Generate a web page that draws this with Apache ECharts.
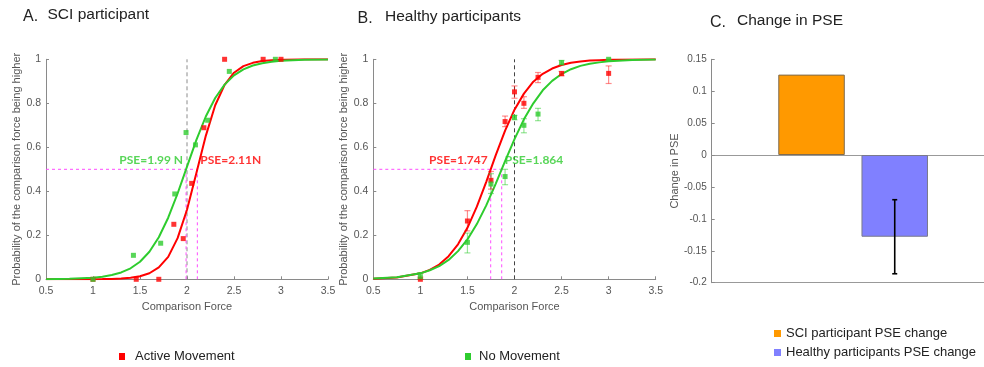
<!DOCTYPE html>
<html>
<head>
<meta charset="utf-8">
<title>PSE figure</title>
<script src="https://cdn.jsdelivr.net/npm/echarts@6/dist/echarts.min.js"></script>
<style>
html, body { margin: 0; padding: 0; background: #fff; }
#chart { width: 984px; height: 367px; }
</style>
</head>
<body>
<div id="chart"></div>
<script>
// fitted psychometric curves at these forces
const curveX = [0.5, 0.75, 1, 1.1, 1.2, 1.3, 1.4, 1.5, 1.6, 1.7, 1.8, 1.9, 2, 2.1, 2.2, 2.3, 2.4, 2.5, 2.6, 2.7, 2.8, 2.9, 3, 3.25, 3.5];
const sciActiveFit = [0, 0.0001, 0.0004, 0.0009, 0.0017, 0.0034, 0.0069, 0.0138, 0.0274, 0.054, 0.102, 0.187, 0.316, 0.483, 0.652, 0.791, 0.884, 0.939, 0.969, 0.984, 0.992, 0.996, 0.998, 0.9997, 1];
const sciNoneFit = [0.0006, 0.0021, 0.0072, 0.0118, 0.0193, 0.0312, 0.05, 0.08, 0.125, 0.191, 0.28, 0.39, 0.512, 0.634, 0.74, 0.824, 0.885, 0.927, 0.954, 0.972, 0.982, 0.989, 0.9935, 0.998, 0.9995];
const healthyActiveFit = [0.0025, 0.0083, 0.027, 0.043, 0.067, 0.105, 0.159, 0.234, 0.33, 0.443, 0.563, 0.676, 0.771, 0.844, 0.898, 0.934, 0.958, 0.974, 0.984, 0.99, 0.994, 0.996, 0.998, 0.9993, 0.9998];
const healthyNoneFit = [0.0035, 0.0098, 0.027, 0.041, 0.06, 0.088, 0.128, 0.181, 0.251, 0.336, 0.434, 0.537, 0.637, 0.727, 0.8, 0.859, 0.902, 0.933, 0.955, 0.97, 0.98, 0.986, 0.991, 0.997, 0.999];

// A. SCI participant raw proportions
const sciActiveX = [1, 1.46, 1.7, 1.86, 1.96, 2.05, 2.18, 2.4, 2.81, 3];
const sciActiveP = [0, 0, 0, 0.25, 0.185, 0.436, 0.689, 1, 1, 1];
const sciNoneX = [1, 1.43, 1.72, 1.87, 1.99, 2.09, 2.22, 2.45, 2.94];
const sciNoneP = [0, 0.109, 0.164, 0.388, 0.667, 0.611, 0.723, 0.945, 1];

// B. Healthy participants, mean and error bars
const healthyX = [1, 1.5, 1.75, 1.9, 2, 2.1, 2.25, 2.5, 3];
const healthyActiveP = [0, 0.265, 0.45, 0.717, 0.852, 0.8, 0.918, 0.935, 0.936];
const healthyActiveLo = [0, 0.22, 0.41, 0.694, 0.823, 0.777, 0.894, 0.925, 0.89];
const healthyActiveHi = [0.01, 0.312, 0.49, 0.742, 0.879, 0.83, 0.94, 0.945, 0.97];
const healthyNoneP = [0.012, 0.168, 0.433, 0.467, 0.736, 0.7, 0.751, 0.985, 1];
const healthyNoneLo = [0, 0.12, 0.39, 0.43, 0.725, 0.666, 0.721, 0.975, 0.995];
const healthyNoneHi = [0.03, 0.21, 0.48, 0.5, 0.745, 0.73, 0.777, 0.995, 1];

// PSE values: [active, none]
const pseSci = [2.11, 1.99];
const pseSciText = ['PSE=2.11N', 'PSE=1.99 N'];
const pseHealthy = [1.747, 1.864];
const pseHealthyText = ['PSE=1.747', 'PSE=1.864'];
const referenceForce = 2;

// C. Change in PSE (groups 1 and 2, as in a bar(1:2) plot)
const changeNames = ['SCI participant PSE change', 'Healthy participants PSE change'];
const changeGroup = [1, 2];
const changeValues = [0.126, -0.128];
const changeErrLo = [null, -0.186];
const changeErrHi = [null, -0.07];

const RED = '#ff0000';
const GREEN = '#2ecc2e';
const MAGENTA = '#ff4dff';
const AXIS = '#8a8a8a';
const LABEL = '#555';
const FONT = '"Liberation Sans", Arial, sans-serif';

const zip = (xs, ys) => xs.map((x, i) => [x, ys[i]]);
const zip3 = (xs, a, b) => xs.map((x, i) => [x, a[i], b[i]]);

function errorBars(color, capHalf, width) {
	return (params, api) => {
		const x = api.value(0);
		const lo = api.coord([x, api.value(1)]);
		const hi = api.coord([x, api.value(2)]);
		const cx = lo[0];
		const style = { stroke: color, lineWidth: width };
		return {
			type: 'group',
			children: [
				{ type: 'line', shape: { x1: cx, y1: lo[1], x2: cx, y2: hi[1] }, style },
				{ type: 'line', shape: { x1: cx - capHalf, y1: lo[1], x2: cx + capHalf, y2: lo[1] }, style },
				{ type: 'line', shape: { x1: cx - capHalf, y1: hi[1], x2: cx + capHalf, y2: hi[1] }, style },
			],
		};
	};
}

function forceAxis(gridIndex) {
	return {
		type: 'value', gridIndex, min: 0.5, max: 3.5, interval: 0.5,
		name: 'Comparison Force', nameLocation: 'middle', nameGap: 20,
		nameTextStyle: { color: LABEL, fontSize: 11, fontFamily: FONT },
		axisLine: { onZero: false, lineStyle: { color: AXIS } },
		axisTick: { inside: true, length: 3, lineStyle: { color: AXIS } },
		axisLabel: { color: LABEL, fontSize: 10.5, margin: 6, fontFamily: FONT },
		splitLine: { show: false },
	};
}

function probAxis(gridIndex) {
	return {
		type: 'value', gridIndex, min: 0, max: 1, interval: 0.2,
		name: 'Probability of the comparison force being higher',
		nameLocation: 'middle', nameGap: 22,
		nameTextStyle: { color: LABEL, fontSize: 11, fontFamily: FONT },
		axisLine: { show: true, onZero: false, lineStyle: { color: AXIS } },
		axisTick: { show: true, inside: true, length: 3, lineStyle: { color: AXIS } },
		axisLabel: { color: LABEL, fontSize: 10.5, margin: 5, fontFamily: FONT },
		splitLine: { show: false },
	};
}

function dashed(data, idx, color, dash) {
	return {
		type: 'line', xAxisIndex: idx, yAxisIndex: idx, data, symbol: 'none', silent: true,
		lineStyle: { color, width: 1, type: dash }, z: 1,
	};
}

function pseLabel(x, text, color, side, idx) {
	return {
		type: 'scatter', xAxisIndex: idx, yAxisIndex: idx, symbolSize: 0, silent: true,
		data: [[x, 0.54]],
		label: {
			show: true, position: side, distance: 3, formatter: text, color,
			fontFamily: 'Lato, sans-serif', fontWeight: 'bold', fontSize: 12,
		},
		z: 5,
	};
}

function panelSeries(idx, pse, pseText, activeFit, noneFit, refColor) {
	const top = Math.max(...pse);
	return [
		dashed([[referenceForce, 0], [referenceForce, 1]], idx, refColor, [4, 3]),
		dashed([[0.5, 0.5], [top, 0.5]], idx, MAGENTA, [3, 3]),
		dashed([[pse[0], 0], [pse[0], 0.5]], idx, MAGENTA, [3, 3]),
		dashed([[pse[1], 0], [pse[1], 0.5]], idx, MAGENTA, [3, 3]),
		{
			name: 'Active Movement', type: 'line', xAxisIndex: idx, yAxisIndex: idx,
			data: zip(curveX, activeFit), symbol: 'none',
			itemStyle: { color: RED }, lineStyle: { color: RED, width: 2 }, z: 3,
		},
		{
			name: 'No Movement', type: 'line', xAxisIndex: idx, yAxisIndex: idx,
			data: zip(curveX, noneFit), symbol: 'none',
			itemStyle: { color: GREEN }, lineStyle: { color: GREEN, width: 2 }, z: 3,
		},
		pseLabel(pse[0], pseText[0], RED, idx === 0 ? 'right' : 'left', idx),
		pseLabel(pse[1], pseText[1], GREEN, idx === 0 ? 'left' : 'right', idx),
	];
}

const chart = echarts.init(document.getElementById('chart'), null, { renderer: 'canvas' });

const BAR_W = 66.5;

const series = [
	...panelSeries(0, pseSci, pseSciText, sciActiveFit, sciNoneFit, '#8c8c8c'),
	{
		type: 'scatter', xAxisIndex: 0, yAxisIndex: 0, data: zip(sciActiveX, sciActiveP),
		symbol: 'rect', symbolSize: 5, itemStyle: { color: RED }, z: 4, silent: true,
	},
	{
		type: 'scatter', xAxisIndex: 0, yAxisIndex: 0, data: zip(sciNoneX, sciNoneP),
		symbol: 'rect', symbolSize: 5, itemStyle: { color: GREEN }, z: 4, silent: true,
	},
	...panelSeries(1, pseHealthy, pseHealthyText, healthyActiveFit, healthyNoneFit, '#444'),
	{
		type: 'custom', xAxisIndex: 1, yAxisIndex: 1, silent: true, z: 4,
		data: zip3(healthyX, healthyActiveLo, healthyActiveHi),
		encode: { x: 0, y: [1, 2] },
		renderItem: errorBars('rgba(255,0,0,0.45)', 3, 1.2),
	},
	{
		type: 'custom', xAxisIndex: 1, yAxisIndex: 1, silent: true, z: 4,
		data: zip3(healthyX, healthyNoneLo, healthyNoneHi),
		encode: { x: 0, y: [1, 2] },
		renderItem: errorBars('rgba(46,204,46,0.5)', 3, 1.2),
	},
	{
		type: 'scatter', xAxisIndex: 1, yAxisIndex: 1, data: zip(healthyX, healthyActiveP),
		symbol: 'rect', symbolSize: 5, itemStyle: { color: RED }, z: 4, silent: true,
	},
	{
		type: 'scatter', xAxisIndex: 1, yAxisIndex: 1, data: zip(healthyX, healthyNoneP),
		symbol: 'rect', symbolSize: 5, itemStyle: { color: GREEN }, z: 4, silent: true,
	},
	{
		name: changeNames[0], type: 'bar', xAxisIndex: 2, yAxisIndex: 2,
		data: [[changeGroup[0], changeValues[0]]], barWidth: BAR_W, barGap: '-100%',
		itemStyle: { color: '#ff9900', borderColor: '#7d6a4e', borderWidth: 1 },
	},
	{
		name: changeNames[1], type: 'bar', xAxisIndex: 2, yAxisIndex: 2,
		data: [[changeGroup[1], changeValues[1]]], barWidth: BAR_W, barGap: '-100%',
		itemStyle: { color: '#8080ff', borderColor: '#7a7a8a', borderWidth: 1 },
	},
	{
		type: 'custom', xAxisIndex: 2, yAxisIndex: 2, silent: true, z: 5,
		data: [[changeGroup[1], changeErrLo[1], changeErrHi[1]]],
		encode: { x: 0, y: [1, 2] },
		renderItem: errorBars('#000', 2.5, 1.6),
	},
];

const titleText = (x, y, text, size) => ({
	type: 'text', x, y,
	style: { text, fill: '#222', font: `${size}px ${FONT}`, verticalAlign: 'middle' },
});

const groupAxis = (extra) => Object.assign({
	type: 'value', gridIndex: 2, min: -0.2, max: 3.073,
	axisTick: { show: false }, axisLabel: { show: false }, splitLine: { show: false },
}, extra);

const option = {
	animation: false,
	textStyle: { fontFamily: FONT },
	grid: [
		{ left: 46, right: 656, top: 59.3, bottom: 87.7 },
		{ left: 373.3, right: 328.3, top: 59.3, bottom: 87.7 },
		{ left: 711.7, right: 0, top: 59.3, bottom: 84.3 },
	],
	xAxis: [
		forceAxis(0),
		forceAxis(1),
		groupAxis({ axisLine: { onZero: true, lineStyle: { color: '#999' } } }),
		groupAxis({ position: 'bottom', axisLine: { onZero: false, lineStyle: { color: '#999' } } }),
	],
	yAxis: [
		probAxis(0),
		probAxis(1),
		{
			type: 'value', gridIndex: 2, min: -0.2, max: 0.15, interval: 0.05,
			name: 'Change in PSE', nameLocation: 'middle', nameGap: 31,
			nameTextStyle: { color: LABEL, fontSize: 11, fontFamily: FONT },
			axisLine: { show: true, onZero: false, lineStyle: { color: AXIS } },
			axisTick: { show: true, inside: true, length: 3, lineStyle: { color: AXIS } },
			axisLabel: { color: LABEL, fontSize: 10, margin: 5, fontFamily: FONT },
			splitLine: { show: false },
		},
	],
	legend: [
		{
			data: ['Active Movement'], left: 114, top: 345, icon: 'rect',
			itemWidth: 6, itemHeight: 7, selectedMode: false,
			textStyle: { fontSize: 13, color: '#222', padding: [0, 0, 0, 5] },
		},
		{
			data: ['No Movement'], left: 460, top: 345, icon: 'rect',
			itemWidth: 6, itemHeight: 7, selectedMode: false,
			textStyle: { fontSize: 13, color: '#222', padding: [0, 0, 0, 3] },
		},
		{
			data: changeNames, left: 769, top: 322, orient: 'vertical', icon: 'rect',
			itemWidth: 7, itemHeight: 7, itemGap: 6, selectedMode: false,
			itemStyle: { borderWidth: 0 },
			textStyle: { fontSize: 13, color: '#222' },
		},
	],
	graphic: [
		titleText(23, 17, 'A.', 16),
		titleText(47.5, 15, 'SCI participant', 15.5),
		titleText(357.5, 19, 'B.', 16),
		titleText(385, 17, 'Healthy participants', 15.5),
		titleText(710, 23, 'C.', 16),
		titleText(737, 20.5, 'Change in PSE', 15.5),
	],
	series,
};

chart.setOption(option);
</script>
</body>
</html>
